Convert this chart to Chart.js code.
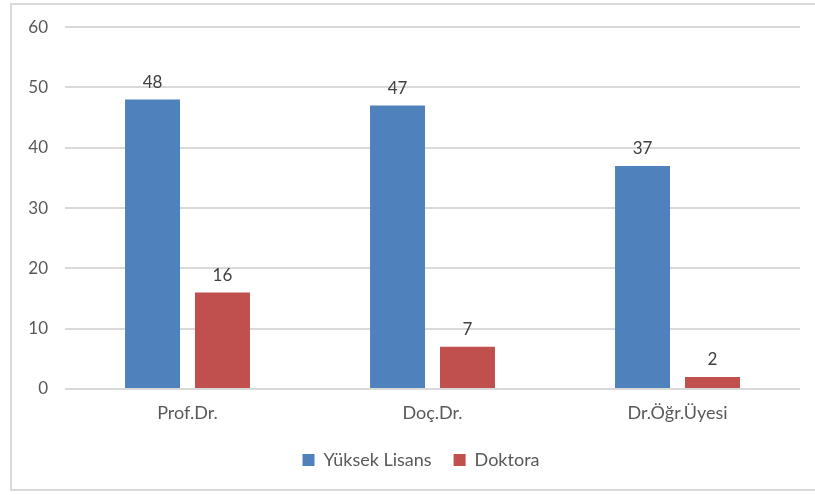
<!DOCTYPE html>
<html>
<head>
<meta charset="utf-8">
<script src="https://cdn.jsdelivr.net/npm/chart.js"></script>
<style>
  html, body { margin: 0; padding: 0; background: #fff; }
  #wrap { position: relative; width: 815px; height: 495px; }
  #frame { position: absolute; left: 10px; top: 3px; width: 815px; height: 488px; border: 2px solid #d9d9d9; box-sizing: border-box; }
  canvas { position: absolute; left: 0; top: 0; }
</style>
</head>
<body>
<div id="wrap">
  <div id="frame"></div>
  <canvas id="chart" width="815" height="495"></canvas>
</div>
<script>
const categories = ["Prof.Dr.", "Doç.Dr.", "Dr.Öğr.Üyesi"];
const yuksekLisans = [48, 47, 37];
const doktora = [16, 7, 2];
const seriesNames = ["Yüksek Lisans", "Doktora"];
const yTicks = [0, 10, 20, 30, 40, 50, 60];

const FONT = "Lato, 'Open Sans', sans-serif";

// draws the value above each bar
const barValues = {
  id: "barValues",
  afterDatasetsDraw(chart) {
    const ctx = chart.ctx;
    ctx.save();
    ctx.font = "17px " + FONT;
    ctx.fillStyle = "#404040";
    ctx.textAlign = "center";
    ctx.textBaseline = "bottom";
    chart.data.datasets.forEach((ds, i) => {
      chart.getDatasetMeta(i).data.forEach((bar, j) => {
        ctx.fillText(ds.data[j], bar.x, bar.y - 9);
      });
    });
    ctx.restore();
  }
};

// legend sits a bit right of the canvas centre in the original
const legendShift = {
  id: "legendShift",
  beforeDraw(chart) {
    chart.legend.left += 16;
    chart.legend.right += 16;
  }
};

new Chart(document.getElementById("chart"), {
  type: "bar",
  data: {
    labels: categories,
    datasets: [
      { label: seriesNames[0], data: yuksekLisans, backgroundColor: "#4F81BD" },
      { label: seriesNames[1], data: doktora, backgroundColor: "#C0504D" }
    ]
  },
  options: {
    responsive: false,
    animation: false,
    layout: { padding: { left: 10, right: 15, top: 22, bottom: 16 } },
    categoryPercentage: 0.571,
    barPercentage: 0.786,
    scales: {
      x: {
        grid: { display: false },
        border: { display: false },
        ticks: { color: "#595959", font: { family: FONT, size: 18 }, padding: 5 },
        afterFit(s) { s.height = 40; }
      },
      y: {
        min: 0,
        max: 60,
        afterBuildTicks(s) { s.ticks = yTicks.map(v => ({ value: v })); },
        grid: { color: "#d9d9d9", lineWidth: 2, drawTicks: false },
        border: { display: false },
        ticks: { color: "#595959", font: { family: FONT, size: 17 }, padding: 17 },
        afterFit(s) { s.width = 55; }
      }
    },
    plugins: {
      legend: {
        position: "bottom",
        labels: {
          color: "#595959",
          font: { family: FONT, size: 18 },
          boxWidth: 12,
          boxHeight: 12,
          padding: 22
        }
      },
      tooltip: { enabled: false }
    }
  },
  plugins: [barValues, legendShift]
});
</script>
</body>
</html>
